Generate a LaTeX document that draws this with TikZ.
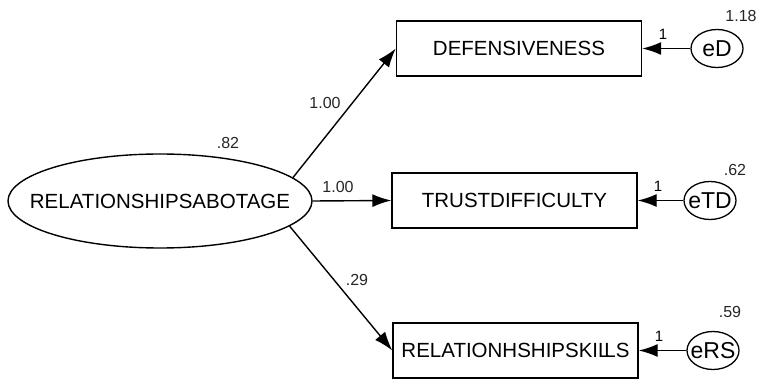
\documentclass[tikz,border=0pt]{standalone}
\usepackage{fontspec}
\setmainfont{Liberation Sans}
\usetikzlibrary{shapes.geometric,arrows.meta}
\begin{document}
\begin{tikzpicture}[x=1pt,y=1pt,
  every node/.style={inner sep=0pt},
  latent/.style={ellipse,draw,line width=1.4pt,minimum width=304pt,minimum height=94pt,inner xsep=-30pt,font=\fontsize{20.5}{20.5}\selectfont},
  observed/.style={rectangle,draw,line width=1.4pt,minimum width=245pt,minimum height=55pt,font=\fontsize{20.5}{20.5}\selectfont},
  errvar/.style={ellipse,draw,line width=1.3pt,minimum width=52pt,minimum height=38pt,inner xsep=-10pt,inner ysep=-5pt,font=\fontsize{23}{23}\selectfont},
  est/.style={font=\fontsize{16}{16}\selectfont,text=black!85},
  one/.style={font=\fontsize{15}{15}\selectfont},
  path/.style={line width=1.4pt,-{Latex[length=19pt,width=13pt]}}]
\useasboundingbox (0,0) rectangle (757,380);

% latent factor
\node[latent] (rs) at (160,179) {RELATIONSHIPSABOTAGE};
\node[est] (rsv) at (228,237) {.82};

% indicators
\node[observed] (def) at (519,331.5) {DEFENSIVENESS};
\node[observed] (td) at (514.5,179.5) {TRUSTDIFFICULTY};
\node[observed] (rsk) at (515.5,29.5) {RELATIONHSHIPSKIL\kern-0.25em LS};

% error terms
\node[errvar] (ed) at (717,331.5) {eD};
\node[errvar] (etd) at (710,179.5) {eTD};
\node[errvar] (ers) at (713,29.5) {eRS};

\node[est] (edv) at (741,364) {1.18};
\node[est] (etdv) at (735,210) {.62};
\node[est] (ersv) at (730,68) {.59};

% loadings
\draw[path] (rs.10) -- (def.west);
\draw[path] (rs.east) -- (td.west);
\draw[path] (rs.-11) -- (rsk.west);
\node[est] (l1) at (325,277) {1.00};
\node[est] (l2) at (338,193) {1.00};
\node[est] (l3) at (357,100) {.29};

% error paths
\draw[path] (ed.west) -- (def.east);
\draw[path] (etd.west) -- (td.east);
\draw[path] (ers.west) -- (rsk.east);
\node[one] (o1) at (663,346) {1};
\node[one] (o2) at (658,194) {1};
\node[one] (o3) at (659,44) {1};
\end{tikzpicture}
\end{document}
